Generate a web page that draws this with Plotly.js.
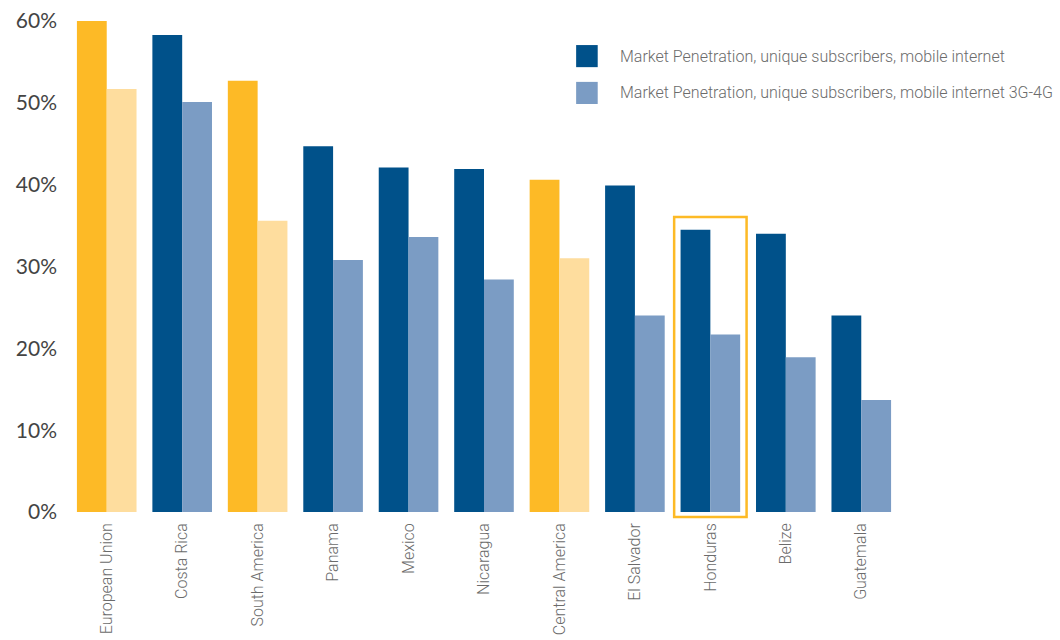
<!DOCTYPE html>
<html>
<head>
<meta charset="utf-8">
<script src="https://cdn.plot.ly/plotly-3.0.1.min.js"></script>
<style>html,body{margin:0;padding:0;background:#fff;}#chart{width:1060px;height:640px;}</style>
</head>
<body>
<div id="chart"></div>
<script>
const categories = ["European Union","Costa Rica","South America","Panama","Mexico","Nicaragua","Central America","El Salvador","Honduras","Belize","Guatemala"];
const mobileInternet = [60.0, 58.3, 52.7, 44.7, 42.1, 41.9, 40.6, 39.9, 34.5, 34.0, 24.0];
const mobileInternet3G4G = [51.7, 50.1, 35.6, 30.8, 33.6, 28.4, 31.0, 24.0, 21.7, 18.9, 13.7];
const seriesNames = ["Market Penetration, unique subscribers, mobile internet",
                     "Market Penetration, unique subscribers, mobile internet 3G-4G"];
const regionGroups = ["European Union","South America","Central America"];
const highlighted = "Honduras";
const yTickVals = [0,10,20,30,40,50,60];
const yTickText = ["0%","10%","20%","30%","40%","50%","60%"];

const BLUE = "#00518A", LBLUE = "#7B9CC4", ORANGE = "#FDBA26", LORANGE = "#FEDD9E";
const isRegion = categories.map(c => regionGroups.includes(c));
const c1 = isRegion.map(r => r ? ORANGE : BLUE);
const c2 = isRegion.map(r => r ? LORANGE : LBLUE);

const condensed = 'Roboto, "Noto Sans", sans-serif';

const traces = [
  {type:"bar", x:categories, y:mobileInternet, name:seriesNames[0], marker:{color:c1}, showlegend:false},
  {type:"bar", x:categories, y:mobileInternet3G4G, name:seriesNames[1], marker:{color:c2}, showlegend:false}
];
const hi = categories.indexOf(highlighted);

// custom legend (square swatches + labels) in paper coordinates
const legColors = [BLUE, LBLUE];
const legY = [[0.906,0.951],[0.831,0.876]];
const legShapes = legColors.map((col,i) => ({type:"rect", xref:"paper", yref:"paper",
  x0:0.611, x1:0.637, y0:legY[i][0], y1:legY[i][1], fillcolor:col, line:{width:0}}));
const legAnn = seriesNames.map((n,i) => ({xref:"paper", yref:"paper", x:0.661, y:(legY[i][0]+legY[i][1])/2,
  xanchor:"left", yanchor:"middle", showarrow:false, text:n,
  font:{family:condensed, size:16, weight:300, color:"#6b6b6b"}}));

const layout = {
  width:1060, height:640,
  margin:{l:69, r:161, t:21, b:128},
  paper_bgcolor:"#fff", plot_bgcolor:"#fff",
  barmode:"group", bargap:0.21, bargroupgap:0,
  showlegend:false,
  xaxis:{type:"category", tickangle:-90, tickfont:{family:condensed, size:16, weight:300, color:"#6b6b6b"},
         showgrid:false, showline:false, zeroline:false, ticks:"", ticklen:0, automargin:false, ticklabelstandoff:7},
  yaxis:{range:[0,60], tickvals:yTickVals, ticktext:yTickText, tickfont:{family:'Lato, "Open Sans", sans-serif', size:21, color:"#444"},
         showgrid:false, zeroline:false, showline:false, ticks:"", ticklen:0, automargin:false, ticklabelstandoff:11},
  shapes:[{type:"rect", xref:"x", yref:"paper", x0:hi-0.48, x1:hi+0.48, y0:-0.0102, y1:0.6008,
           line:{color:ORANGE, width:2.5}, fillcolor:"rgba(0,0,0,0)"}].concat(legShapes),
  annotations:legAnn
};
Plotly.newPlot("chart", traces, layout, {displayModeBar:false, staticPlot:true});
</script>
</body>
</html>
